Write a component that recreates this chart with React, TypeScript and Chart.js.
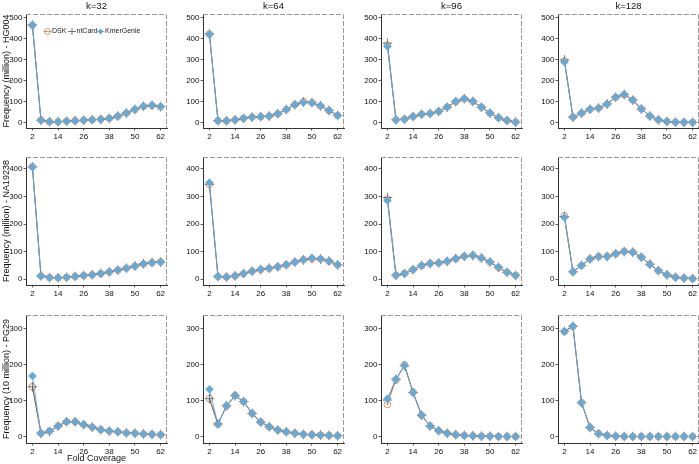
import React, { useEffect, useRef } from 'react';
import { Chart, registerables } from 'chart.js';
Chart.register(...registerables);

// ---------- data ----------
const coverage = [2, 6, 10, 14, 18, 22, 26, 30, 34, 38, 42, 46, 50, 54, 58, 62];
const xTickValues = [2, 14, 26, 38, 50, 62];
const kmerTitles = ['k=32', 'k=64', 'k=96', 'k=128'];
const rowTitles = ['Frequency (million) - HG004', 'Frequency (million) - NA19238', 'Frequency (10 million) - PG29'];
const yTicksHG004 = [0, 100, 200, 300, 400, 500];
const yTicksNA19238 = [0, 100, 200, 300, 400];
const yTicksPG29 = [0, 100, 200, 300];
const seriesNames = ['DSK', 'ntCard', 'KmerGenie'];

// HG004
const hg004k32Dsk = [466, 13, 5, 5, 8, 10, 12, 14, 17, 21, 31, 46, 63, 78, 83, 76];
const hg004k32Nt = [467, 12, 5, 5, 7, 10, 12, 15, 16, 21, 32, 47, 64, 79, 84, 77];
const hg004k32Kg = [465, 12, 5, 5, 7, 10, 12, 14, 16, 21, 32, 47, 65, 79, 83, 78];
const hg004k64Dsk = [423, 10, 9, 14, 21, 27, 29, 32, 43, 63, 87, 101, 96, 80, 58, 35];
const hg004k64Nt = [424, 10, 9, 14, 21, 27, 29, 32, 43, 63, 86, 99, 96, 81, 59, 35];
const hg004k64Kg = [422, 10, 9, 14, 21, 27, 29, 32, 43, 63, 86, 97, 95, 81, 59, 35];
const hg004k96Dsk = [370, 14, 17, 30, 41, 44, 54, 75, 100, 114, 101, 75, 46, 24, 11, 3];
const hg004k96Nt = [380, 14, 17, 30, 41, 44, 54, 74, 101, 115, 102, 74, 46, 24, 11, 3];
const hg004k96Kg = [364, 14, 17, 30, 41, 44, 54, 75, 103, 116, 103, 75, 46, 24, 11, 3];
const hg004k128Dsk = [295, 27, 46, 64, 70, 89, 121, 134, 108, 66, 32, 14, 6, 3, 2, 2];
const hg004k128Nt = [300, 26, 46, 65, 70, 90, 122, 135, 108, 66, 32, 14, 6, 3, 2, 2];
const hg004k128Kg = [290, 27, 46, 65, 70, 90, 123, 135, 109, 66, 32, 14, 6, 3, 2, 2];

// NA19238
const na19238k32Dsk = [408, 12, 6, 5, 7, 10, 13, 16, 20, 26, 33, 40, 47, 55, 60, 63];
const na19238k32Nt = [407, 12, 6, 5, 7, 10, 13, 16, 21, 27, 33, 40, 48, 56, 61, 62];
const na19238k32Kg = [407, 12, 6, 5, 7, 10, 13, 16, 21, 27, 33, 40, 48, 56, 60, 62];
const na19238k64Dsk = [344, 10, 8, 12, 20, 29, 35, 39, 45, 52, 62, 71, 74, 73, 65, 52];
const na19238k64Nt = [344, 10, 8, 12, 21, 29, 35, 40, 45, 52, 62, 70, 75, 73, 66, 52];
const na19238k64Kg = [350, 10, 8, 12, 21, 29, 35, 40, 45, 52, 62, 70, 77, 74, 66, 52];
const na19238k96Dsk = [290, 14, 21, 35, 49, 57, 59, 65, 74, 83, 87, 77, 62, 42, 25, 14];
const na19238k96Nt = [296, 14, 21, 35, 50, 57, 59, 65, 75, 83, 86, 77, 62, 43, 25, 14];
const na19238k96Kg = [285, 14, 21, 35, 50, 57, 59, 65, 75, 83, 86, 77, 63, 44, 25, 14];
const na19238k128Dsk = [230, 27, 50, 74, 82, 83, 92, 101, 98, 80, 55, 31, 16, 7, 4, 2];
const na19238k128Nt = [227, 27, 50, 73, 82, 82, 92, 100, 98, 80, 54, 31, 16, 7, 4, 2];
const na19238k128Kg = [224, 27, 50, 73, 82, 82, 92, 100, 98, 80, 53, 31, 16, 7, 4, 2];

// PG29
const pg29k32Dsk = [139, 10, 16, 30, 42, 42, 34, 27, 20, 16, 14, 11, 10, 8, 7, 6];
const pg29k32Nt = [139, 10, 15, 30, 42, 42, 34, 27, 20, 16, 14, 11, 10, 8, 7, 6];
const pg29k32Kg = [169, 10, 16, 30, 42, 42, 34, 27, 20, 16, 14, 11, 10, 8, 7, 6];
const pg29k64Dsk = [106, 35, 86, 115, 98, 65, 41, 28, 19, 14, 10, 7, 6, 5, 4, 3];
const pg29k64Nt = [106, 36, 86, 114, 98, 65, 41, 28, 19, 14, 10, 7, 6, 5, 4, 3];
const pg29k64Kg = [132, 35, 86, 115, 98, 65, 41, 28, 19, 14, 10, 7, 6, 5, 4, 3];
const pg29k96Dsk = [90, 158, 200, 124, 60, 30, 17, 10, 6, 4, 3, 2, 2, 1, 1, 1];
const pg29k96Nt = [102, 160, 197, 123, 60, 30, 17, 10, 6, 4, 3, 2, 2, 1, 1, 1];
const pg29k96Kg = [106, 160, 198, 123, 60, 30, 17, 10, 6, 4, 3, 2, 2, 1, 1, 1];
const pg29k128Dsk = [292, 306, 95, 26, 9, 4, 2, 1, 1, 1, 1, 1, 1, 1, 1, 1];
const pg29k128Nt = [293, 307, 95, 26, 9, 4, 2, 1, 1, 1, 1, 1, 1, 1, 1, 1];
const pg29k128Kg = [292, 307, 95, 26, 9, 4, 2, 1, 1, 1, 1, 1, 1, 1, 1, 1];

const panelData = [
  [
    [hg004k32Dsk, hg004k32Nt, hg004k32Kg],
    [hg004k64Dsk, hg004k64Nt, hg004k64Kg],
    [hg004k96Dsk, hg004k96Nt, hg004k96Kg],
    [hg004k128Dsk, hg004k128Nt, hg004k128Kg],
  ],
  [
    [na19238k32Dsk, na19238k32Nt, na19238k32Kg],
    [na19238k64Dsk, na19238k64Nt, na19238k64Kg],
    [na19238k96Dsk, na19238k96Nt, na19238k96Kg],
    [na19238k128Dsk, na19238k128Nt, na19238k128Kg],
  ],
  [
    [pg29k32Dsk, pg29k32Nt, pg29k32Kg],
    [pg29k64Dsk, pg29k64Nt, pg29k64Kg],
    [pg29k96Dsk, pg29k96Nt, pg29k96Kg],
    [pg29k128Dsk, pg29k128Nt, pg29k128Kg],
  ],
];
const rowYTicks = [yTicksHG004, yTicksNA19238, yTicksPG29];
const rowYMin = [-25, -21, -17];
const rowYMax = [519, 443, 338];

// ---------- layout / style ----------
const FONT = '"Liberation Sans", Arial, Helvetica, sans-serif';
const DSK_COLOR = '#c97b52';
const NT_COLOR = '#555555';
const KG_COLOR = '#6aa8d2';
const BOX_LEFT = [26, 203, 381, 558];
const BOX_W = 141;
const BOX_TOP = [14, 157, 315];
const BOX_H = [114, 128, 128];
const Y_AXIS_W = 26;
const RIGHT_PAD = 2;

function panelGeom(r: number, c: number) {
  const T = r === 0 ? 14 : 6;
  const B = r === 2 && c === 0 ? 21 : 14;
  return {
    T,
    B,
    left: BOX_LEFT[c] - Y_AXIS_W,
    top: BOX_TOP[r] - T,
    width: Y_AXIS_W + BOX_W + RIGHT_PAD,
    height: T + BOX_H[r] + B,
  };
}

const decorPlugin = {
  id: 'panelDecor',
  afterDraw(chart: any) {
    const opts = chart.options.plugins.panelDecor || {};
    const { ctx, chartArea } = chart;
    const { left, right, top, bottom } = chartArea;
    ctx.save();
    // dashed top/right frame
    ctx.strokeStyle = '#999999';
    ctx.lineWidth = 1;
    ctx.setLineDash([5, 2]);
    ctx.beginPath();
    ctx.moveTo(left, top + 0.5);
    ctx.lineTo(right - 0.5, top + 0.5);
    ctx.lineTo(right - 0.5, bottom);
    ctx.stroke();
    ctx.setLineDash([]);
    // panel title
    if (opts.title) {
      ctx.fillStyle = '#111';
      ctx.font = `9.5px ${FONT}`;
      ctx.textAlign = 'center';
      ctx.textBaseline = 'middle';
      ctx.fillText(opts.title, (left + right) / 2, top - 8);
    }
    // legend
    if (opts.legend) {
      const y = top + 17.5;
      ctx.font = `7px ${FONT}`;
      ctx.textBaseline = 'middle';
      ctx.textAlign = 'left';
      ctx.lineWidth = 0.8;
      // DSK
      let x = left + 21.5;
      ctx.strokeStyle = DSK_COLOR;
      ctx.beginPath();
      ctx.moveTo(x - 4, y);
      ctx.lineTo(x + 4, y);
      ctx.stroke();
      ctx.beginPath();
      ctx.arc(x, y, 3, 0, Math.PI * 2);
      ctx.stroke();
      ctx.fillStyle = '#222';
      ctx.fillText(seriesNames[0], x + 4.5, y);
      // ntCard
      x = left + 46;
      ctx.strokeStyle = NT_COLOR;
      ctx.beginPath();
      ctx.moveTo(x - 4, y);
      ctx.lineTo(x + 4, y);
      ctx.moveTo(x, y - 3.5);
      ctx.lineTo(x, y + 3.5);
      ctx.stroke();
      ctx.fillText(seriesNames[1], x + 4.5, y);
      // KmerGenie
      x = left + 74.5;
      ctx.strokeStyle = KG_COLOR;
      ctx.beginPath();
      ctx.moveTo(x - 4, y);
      ctx.lineTo(x + 4, y);
      ctx.stroke();
      ctx.fillStyle = KG_COLOR;
      ctx.beginPath();
      ctx.moveTo(x, y - 3);
      ctx.lineTo(x + 3, y);
      ctx.lineTo(x, y + 3);
      ctx.lineTo(x - 3, y);
      ctx.closePath();
      ctx.fill();
      ctx.fillStyle = '#222';
      ctx.fillText(seriesNames[2], x + 4.5, y);
    }
    ctx.restore();
  },
};

function Panel({ r, c }: { r: number; c: number }) {
  const ref = useRef<HTMLCanvasElement | null>(null);
  const g = panelGeom(r, c);
  useEffect(() => {
    if (!ref.current) return;
    const [dsk, nt, kg] = panelData[r][c];
    const toPts = (arr: number[]) => arr.map((v, i) => ({ x: coverage[i], y: v }));
    const yTicks = rowYTicks[r];
    const chart = new Chart(ref.current, {
      type: 'line',
      data: {
        datasets: [
          {
            label: seriesNames[2],
            data: toPts(kg),
            borderColor: KG_COLOR,
            borderWidth: 0.9,
            pointStyle: 'rectRot',
            pointRadius: 4,
            pointBackgroundColor: KG_COLOR,
            pointBorderColor: KG_COLOR,
            pointBorderWidth: 0.5,
            backgroundColor: KG_COLOR,
            tension: 0,
          },
          {
            label: seriesNames[1],
            data: toPts(nt),
            borderColor: NT_COLOR,
            borderWidth: 0.8,
            pointStyle: 'cross',
            pointRadius: 4.8,
            pointBorderColor: NT_COLOR,
            pointBorderWidth: 0.8,
            backgroundColor: NT_COLOR,
            tension: 0,
          },
          {
            label: seriesNames[0],
            data: toPts(dsk),
            borderColor: DSK_COLOR,
            borderWidth: 0.8,
            pointStyle: 'circle',
            pointRadius: 3.3,
            pointBackgroundColor: 'rgba(255,255,255,0)',
            pointBorderColor: DSK_COLOR,
            pointBorderWidth: 0.8,
            tension: 0,
          },
        ],
      },
      options: {
        animation: false,
        responsive: false,
        maintainAspectRatio: false,
        devicePixelRatio: 1,
        events: [],
        layout: { padding: { top: g.T, right: RIGHT_PAD, left: 0, bottom: 0 }, autoPadding: false },
        plugins: {
          legend: { display: false },
          tooltip: { enabled: false },
          title: { display: false },
          panelDecor: { title: r === 0 ? kmerTitles[c] : null, legend: r === 0 && c === 0 },
        } as any,
        scales: {
          x: {
            type: 'linear',
            min: -1,
            max: 65,
            afterBuildTicks: (s: any) => {
              s.ticks = xTickValues.map((v) => ({ value: v }));
            },
            afterFit: (s: any) => {
              s.height = g.B;
            },
            grid: { drawOnChartArea: false, drawTicks: true, tickLength: 2.5, color: '#333', lineWidth: 0.8 },
            border: { display: true, color: '#333', width: 1 },
            ticks: {
              font: { family: FONT, size: 8 },
              color: '#111',
              padding: 1,
              maxRotation: 0,
              autoSkip: false,
              callback: (v: any) => String(v),
            },
            title: {
              display: r === 2 && c === 0,
              text: 'Fold Coverage',
              font: { family: FONT, size: 9 },
              color: '#111',
              padding: 0,
            },
          },
          y: {
            type: 'linear',
            min: rowYMin[r],
            max: rowYMax[r],
            afterBuildTicks: (s: any) => {
              s.ticks = yTicks.map((v) => ({ value: v }));
            },
            afterFit: (s: any) => {
              s.width = Y_AXIS_W;
            },
            grid: { drawOnChartArea: false, drawTicks: true, tickLength: 2.5, color: '#333', lineWidth: 0.8 },
            border: { display: true, color: '#333', width: 1 },
            ticks: {
              font: { family: FONT, size: 8 },
              color: '#111',
              padding: 1,
              autoSkip: false,
              callback: (v: any) => String(v),
            },
            title: {
              display: c === 0,
              text: rowTitles[r],
              font: { family: FONT, size: 9 },
              color: '#111',
              padding: { top: 1, bottom: 0 },
            },
          },
        },
      } as any,
      plugins: [decorPlugin],
    });
    return () => chart.destroy();
  }, [r, c]);
  return (
    <canvas
      ref={ref}
      width={g.width}
      height={g.height}
      style={{ position: 'absolute', left: g.left, top: g.top, width: g.width, height: g.height }}
    />
  );
}

export default function App() {
  useEffect(() => {
    document.body.style.margin = '0';
  }, []);
  const cells: React.ReactElement[] = [];
  for (let r = 0; r < 3; r++) for (let c = 0; c < 4; c++) cells.push(<Panel key={`${r}-${c}`} r={r} c={c} />);
  return (
    <div style={{ position: 'relative', width: 699, height: 464, overflow: 'hidden', background: '#fff' }}>
      {cells}
    </div>
  );
}
